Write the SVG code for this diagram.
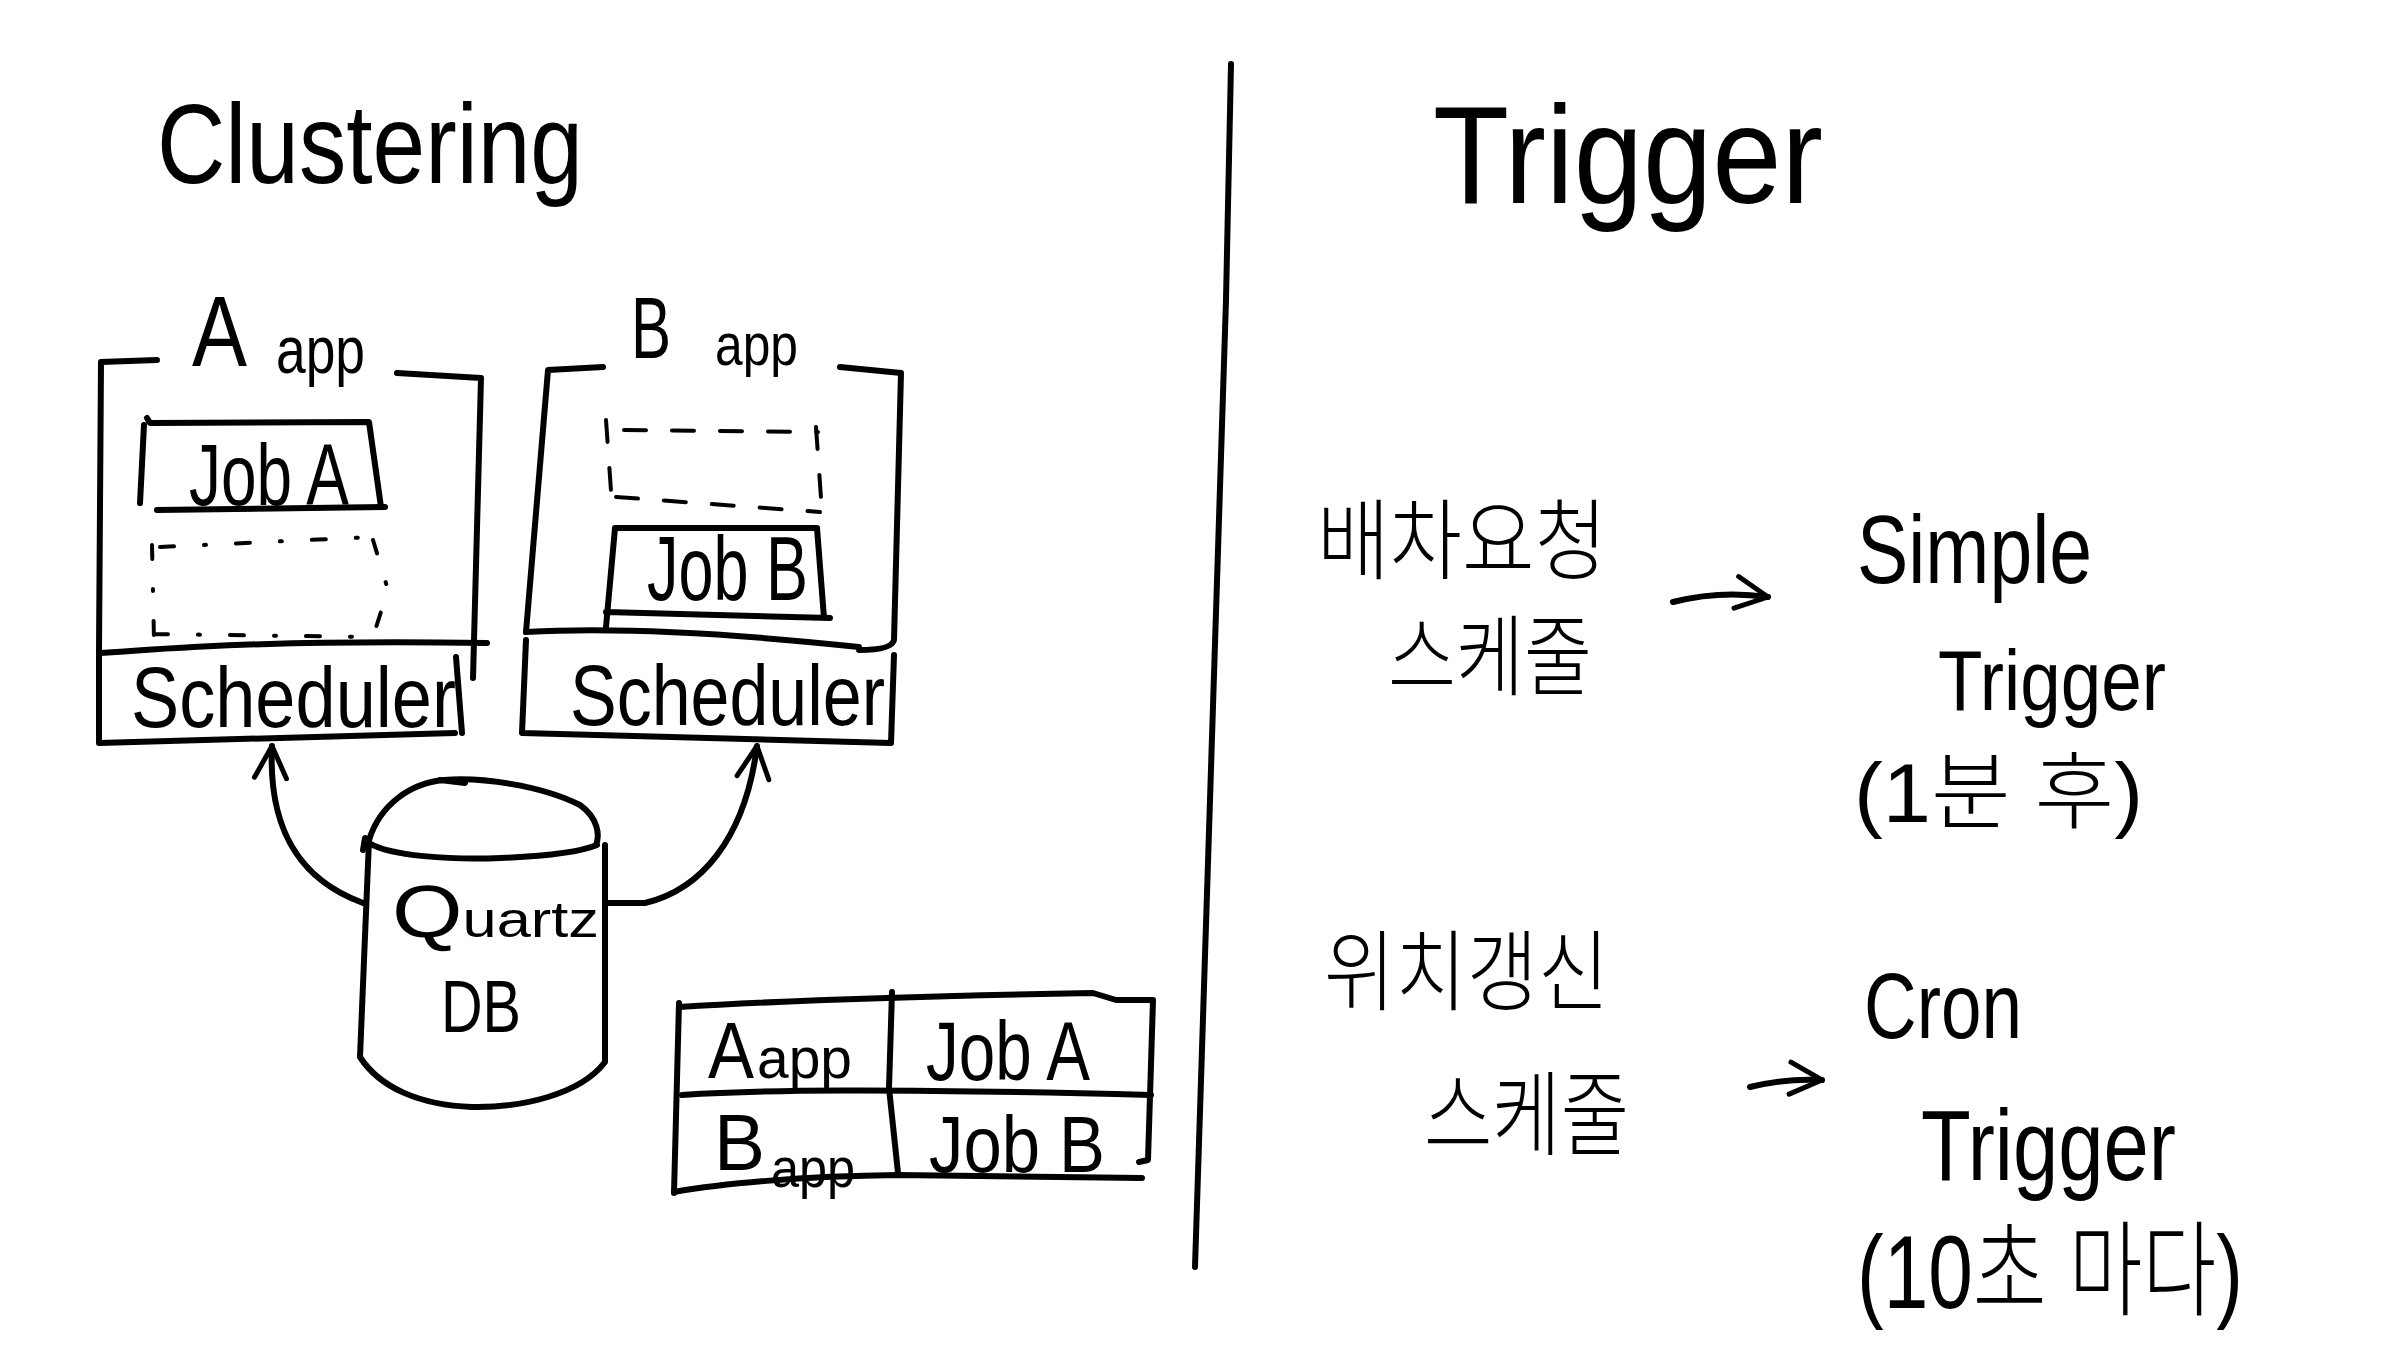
<svg xmlns="http://www.w3.org/2000/svg" width="2394" height="1372" viewBox="0 0 2394 1372">
<defs>
<style>
.ln{fill:none;stroke:#000;stroke-width:6;stroke-linecap:round;stroke-linejoin:round}
.th{fill:none;stroke:#000;stroke-width:4;stroke-linecap:round;stroke-linejoin:round}
.dash{fill:none;stroke:#000;stroke-width:4;stroke-linecap:round;stroke-dasharray:22 26}
.dot{fill:none;stroke:#000;stroke-width:4;stroke-linecap:round;stroke-dasharray:14 30 2 30}
.t{font-family:"Liberation Sans","Noto Sans CJK KR",sans-serif;fill:#000}
.k{font-family:"Noto Sans CJK KR","Noto Sans",sans-serif;fill:#000;font-weight:300}
.p{font-family:"Liberation Sans","Noto Sans CJK KR",sans-serif;fill:#000;font-weight:300}
</style>
<marker id="ah" viewBox="0 0 40 40" refX="36" refY="20" markerWidth="40" markerHeight="40" markerUnits="userSpaceOnUse" orient="auto">
<path d="M4,4 L36,20 L4,36" fill="none" stroke="#000" stroke-width="5" stroke-linecap="round" stroke-linejoin="round"/>
</marker>
</defs>
<rect width="2394" height="1372" fill="#fff"/>

<g id="titles">
<text class="t" x="157" y="183" font-size="114" textLength="426" lengthAdjust="spacingAndGlyphs">Clustering</text>
<text class="t" x="1433" y="203" font-size="140" textLength="390" lengthAdjust="spacingAndGlyphs">Trigger</text>
</g>

<g id="divider">
<path class="ln" d="M1231,64 L1226,300 L1210,800 L1195,1267"/>
</g>

<g id="a-app">
<path class="ln" d="M157,360 L101,362 L99,650 L99,743 L455,733"/>
<path class="ln" d="M397,373 L481,378 L473,678"/>
<path class="ln" d="M99,653 C180,648 260,640 487,643"/>
<path class="ln" d="M456,657 L462,733"/>
<text class="t" x="192" y="366" font-size="100" textLength="55" lengthAdjust="spacingAndGlyphs">A</text>
<text class="t" x="276" y="373" font-size="66" textLength="89" lengthAdjust="spacingAndGlyphs">app</text>
<path class="ln" d="M147,418 L150,423 L369,422 L381,507 M144,425 L140,503 M157,510 L385,507"/>
<text class="t" x="189" y="505" font-size="88" textLength="160" lengthAdjust="spacingAndGlyphs">Job A</text>
<path class="dot" d="M152,545 L154,640 M160,547 L373,537 M373,540 L388,590 L372,640 M154,634 L370,637"/>
<text class="t" x="131" y="727" font-size="86" textLength="325" lengthAdjust="spacingAndGlyphs">Scheduler</text>
</g>

<g id="b-app">
<path class="ln" d="M603,367 L548,370 L526,632"/>
<path class="ln" d="M840,367 L901,373 L894,640 Q892,650 859,650"/>
<path class="ln" d="M526,632 C600,628 700,630 859,647"/>
<path class="ln" d="M526,640 L522,733 L891,743 M894,655 L891,743"/>
<text class="t" x="631" y="358" font-size="88" textLength="40" lengthAdjust="spacingAndGlyphs">B</text>
<text class="t" x="715" y="365" font-size="60" textLength="83" lengthAdjust="spacingAndGlyphs">app</text>
<path class="dash" d="M606,420 L612,505 M624,430 L818,432 M816,427 L822,512 M616,497 L820,512"/>
<path class="ln" d="M615,528 L817,528 L824,618 M615,528 L606,627 M606,612 L830,618"/>
<text class="t" x="647" y="600" font-size="90" textLength="161" lengthAdjust="spacingAndGlyphs">Job B</text>
<text class="t" x="570" y="725" font-size="86" textLength="315" lengthAdjust="spacingAndGlyphs">Scheduler</text>
</g>

<g id="quartz-db">
<path class="ln" d="M369,840 C380,805 410,783 444,780 C480,777 540,785 580,805 C598,818 600,835 596,845"/>
<path class="ln" d="M369,843 C390,856 450,860 501,858 C550,856 580,852 597,845"/>
<path class="ln" d="M440,780 L465,783"/>
<path class="ln" d="M369,840 L360,1057 C380,1088 420,1105 472,1107 C520,1108 580,1095 605,1062 L605,845"/>
<path class="ln" d="M363,850 L365,838"/>
<text class="t" x="392" y="937" textLength="207" lengthAdjust="spacingAndGlyphs"><tspan font-size="74">Q</tspan><tspan font-size="50">uartz</tspan></text>
<text class="t" x="441" y="1032" font-size="74" textLength="80" lengthAdjust="spacingAndGlyphs">DB</text>
</g>

<g id="mapping-table">
<path class="ln" d="M679,1007 C760,1002 875,997 1093,993 L1116,1000 L1153,1000 L1148,1160 L1139,1162"/>
<path class="ln" d="M679,1003 L674,1193"/>
<path class="ln" d="M682,1095 C760,1090 875,1088 1151,1095"/>
<path class="ln" d="M674,1192 C720,1184 800,1176 898,1175 L1142,1178"/>
<path class="ln" d="M892,992 L889,1088 L898,1173"/>
<text class="t" x="708" y="1078" font-size="80" textLength="46" lengthAdjust="spacingAndGlyphs">A</text>
<text class="t" x="757" y="1078" font-size="58" textLength="95" lengthAdjust="spacingAndGlyphs">app</text>
<text class="t" x="926" y="1080" font-size="84" textLength="164" lengthAdjust="spacingAndGlyphs">Job A</text>
<text class="t" x="714" y="1170" font-size="80" textLength="51" lengthAdjust="spacingAndGlyphs">B</text>
<text class="t" x="771" y="1187" font-size="56" textLength="84" lengthAdjust="spacingAndGlyphs">app</text>
<text class="t" x="929" y="1172" font-size="80" textLength="176" lengthAdjust="spacingAndGlyphs">Job B</text>
</g>

<g id="dispatch-schedule">
<text class="k" x="1317" y="572" font-size="88" textLength="290" lengthAdjust="spacingAndGlyphs">배차요청</text>
<text class="k" x="1388" y="688" font-size="88" textLength="204" lengthAdjust="spacingAndGlyphs">스케줄</text>
</g>

<g id="simple-trigger">
<text class="t" x="1857" y="583" font-size="96" textLength="235" lengthAdjust="spacingAndGlyphs">Simple</text>
<text class="t" x="1938" y="710" font-size="86" textLength="228" lengthAdjust="spacingAndGlyphs">Trigger</text>
<text class="p" x="1854" y="822" font-size="84" textLength="289" lengthAdjust="spacingAndGlyphs">(1분 후)</text>
</g>

<g id="location-schedule">
<text class="k" x="1324" y="1003" font-size="88" textLength="285" lengthAdjust="spacingAndGlyphs">위치갱신</text>
<text class="k" x="1424" y="1148" font-size="92" textLength="205" lengthAdjust="spacingAndGlyphs">스케줄</text>
</g>

<g id="cron-trigger">
<text class="t" x="1864" y="1038" font-size="92" textLength="158" lengthAdjust="spacingAndGlyphs">Cron</text>
<text class="t" x="1921" y="1180" font-size="100" textLength="255" lengthAdjust="spacingAndGlyphs">Trigger</text>
<text class="p" x="1857" y="1308" font-size="104" textLength="386" lengthAdjust="spacingAndGlyphs">(10초 마다)</text>
</g>

<g id="connectors">
<path class="ln" d="M363,903 C300,880 268,830 272,746" marker-end="url(#ah)"/>
<path class="ln" d="M607,903 L645,903 C700,890 745,840 757,746" marker-end="url(#ah)"/>
<path class="ln" d="M1673,602 Q1720,590 1768,597" marker-end="url(#ah)"/>
<path class="ln" d="M1750,1087 Q1787,1078 1822,1080" marker-end="url(#ah)"/>
</g>
</svg>
